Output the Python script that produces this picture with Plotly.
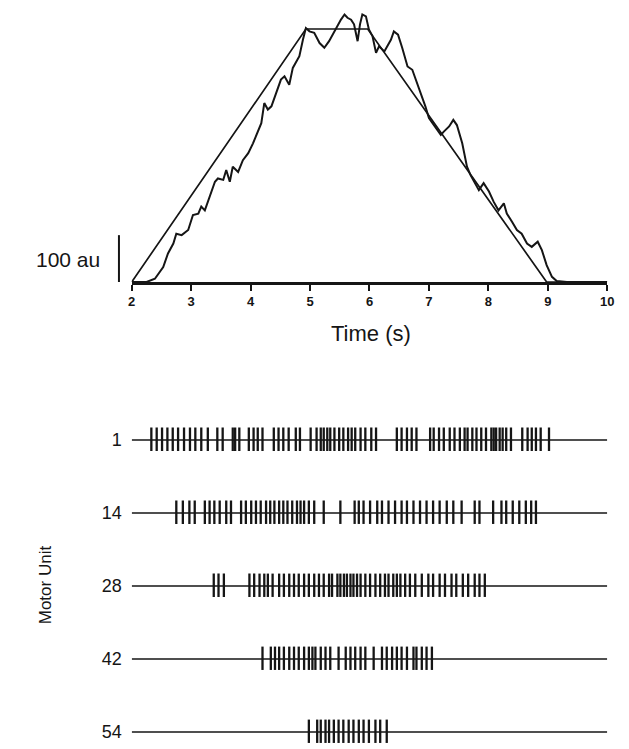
import plotly.graph_objects as go

# ---------------- data ----------------
# target force trajectory (trapezoid)
target_t = [2.0, 4.93, 5.97, 8.98, 10.0]
target_v = [0, 540, 540, 0, 0]

force_t = [2.0, 2.25, 2.39, 2.53, 2.61, 2.70, 2.75, 2.84, 2.95, 3.03, 3.12, 3.17, 3.23, 3.31, 3.40,
           3.45, 3.54, 3.59, 3.65, 3.70, 3.79, 3.87, 3.96, 4.04, 4.12, 4.18, 4.23, 4.29, 4.35,
           4.43, 4.51, 4.57, 4.65, 4.71, 4.77, 4.82, 4.88, 4.93, 4.99, 5.07, 5.16, 5.24, 5.32,
           5.41, 5.47, 5.52, 5.58, 5.63, 5.69, 5.74, 5.80, 5.84, 5.88, 5.94, 5.99, 6.05, 6.11,
           6.16, 6.25, 6.36, 6.41, 6.48, 6.55, 6.64, 6.72, 6.78, 6.86, 6.94, 7.00, 7.06, 7.14,
           7.20, 7.25, 7.34, 7.41, 7.47, 7.56, 7.64, 7.70, 7.78, 7.84, 7.92, 8.01, 8.09, 8.17,
           8.26, 8.31, 8.40, 8.48, 8.56, 8.65, 8.73, 8.83, 8.90, 8.98, 9.07, 9.15, 9.32, 10.0]
force_v = [0, 0, 7, 32, 61, 82, 103, 100, 111, 143, 146, 161, 153, 181, 214,
           221, 218, 239, 214, 246, 235, 260, 275, 296, 321, 339, 382, 368, 375,
           403, 432, 439, 421, 457, 471, 482, 517, 542, 535, 532, 510, 500, 514,
           535, 546, 560, 571, 564, 560, 550, 514, 550, 571, 567, 539, 525, 489,
           503, 492, 517, 535, 528, 500, 460, 453, 432, 403, 375, 350, 339, 325,
           314, 321, 332, 346, 335, 296, 246, 228, 211, 196, 211, 193, 171, 153,
           168, 146, 128, 111, 103, 82, 75, 86, 68, 36, 11, 2, 0, 0]

time_ticks = [2, 3, 4, 5, 6, 7, 8, 9, 10]

# motor unit discharge times (s)
unit_labels = ["1", "14", "28", "42", "54"]
mu1 = [2.33, 2.42, 2.51, 2.60, 2.69, 2.78, 2.88, 2.98, 3.07, 3.17, 3.28, 3.44, 3.53, 3.70, 3.74,
       3.81, 3.97, 4.05, 4.12, 4.20, 4.39, 4.47, 4.55, 4.64, 4.76, 4.83, 5.01, 5.11, 5.18, 5.23,
       5.29, 5.34, 5.41, 5.49, 5.56, 5.64, 5.70, 5.76, 5.85, 5.93, 6.03, 6.11, 6.46, 6.54, 6.63,
       6.71, 6.79, 7.02, 7.08, 7.17, 7.25, 7.35, 7.43, 7.52, 7.60, 7.65, 7.73, 7.80, 7.88, 7.96,
       8.05, 8.09, 8.13, 8.19, 8.24, 8.30, 8.38, 8.57, 8.66, 8.73, 8.80, 8.88, 9.02]
mu14 = [2.75, 2.86, 2.97, 3.06, 3.23, 3.31, 3.39, 3.48, 3.59, 3.67, 3.84, 3.92, 4.01, 4.09, 4.17,
        4.26, 4.33, 4.40, 4.48, 4.55, 4.62, 4.70, 4.78, 4.84, 4.90, 4.98, 5.07, 5.23, 5.51, 5.75,
        5.82, 5.90, 6.01, 6.13, 6.21, 6.32, 6.43, 6.54, 6.63, 6.74, 6.85, 6.96, 7.07, 7.18, 7.30,
        7.41, 7.55, 7.77, 7.85, 8.08, 8.22, 8.30, 8.41, 8.52, 8.63, 8.72, 8.80]
mu28 = [3.38, 3.46, 3.55, 3.98, 4.06, 4.15, 4.23, 4.29, 4.37, 4.48, 4.56, 4.65, 4.73, 4.81, 4.90,
        4.98, 5.07, 5.15, 5.23, 5.32, 5.37, 5.46, 5.51, 5.57, 5.62, 5.68, 5.73, 5.79, 5.85, 5.93,
        6.01, 6.10, 6.18, 6.26, 6.32, 6.40, 6.46, 6.52, 6.60, 6.68, 6.77, 6.88, 6.99, 7.07, 7.18,
        7.27, 7.38, 7.46, 7.57, 7.66, 7.77, 7.85, 7.94]
mu42 = [4.20, 4.34, 4.41, 4.48, 4.56, 4.65, 4.73, 4.81, 4.90, 4.98, 5.04, 5.09, 5.18, 5.26, 5.34,
        5.48, 5.60, 5.68, 5.76, 5.85, 5.93, 6.07, 6.21, 6.29, 6.38, 6.46, 6.54, 6.63, 6.74, 6.79,
        6.88, 6.96, 7.05]
mu54 = [4.98, 5.12, 5.18, 5.26, 5.32, 5.40, 5.48, 5.56, 5.65, 5.73, 5.82, 5.90, 5.99, 6.10,
        6.18, 6.29]
spike_trains = [mu1, mu14, mu28, mu42, mu54]

# ---------------- figure ----------------
W, H = 629, 749
INK = "#151515"
FONT = "Liberation Sans, Arial, sans-serif"

def px_x(p):
    return p / W

def px_y(p):
    return 1 - p / H

fig = go.Figure()

# top panel
fig.add_trace(go.Scatter(x=target_t, y=target_v, mode="lines",
                         line=dict(color=INK, width=1.7), xaxis="x", yaxis="y",
                         showlegend=False, hoverinfo="skip"))
fig.add_trace(go.Scatter(x=force_t, y=force_v, mode="lines",
                         line=dict(color=INK, width=2.0), xaxis="x", yaxis="y",
                         showlegend=False, hoverinfo="skip"))

# bottom panel: baselines and spikes
bx, by = [], []
sx, sy = [], []
for k, train in enumerate(spike_trains):
    bx += [2, 10, None]
    by += [k, k, None]
    for t in train:
        sx += [t, t, None]
        sy += [k - 0.17, k + 0.15, None]
fig.add_trace(go.Scatter(x=bx, y=by, mode="lines", line=dict(color=INK, width=1.7),
                         xaxis="x2", yaxis="y2", showlegend=False, hoverinfo="skip"))
fig.add_trace(go.Scatter(x=sx, y=sy, mode="lines", line=dict(color=INK, width=2.3),
                         xaxis="x2", yaxis="y2", showlegend=False, hoverinfo="skip"))

x_dom = [px_x(130), px_x(614)]
yr_top = [0, 585]
top_bottom_px, top_top_px = 282, 282 - 585 * 0.4685

fig.update_layout(
    width=W, height=H,
    margin=dict(l=0, r=0, t=0, b=0),
    paper_bgcolor="white", plot_bgcolor="rgba(0,0,0,0)",
    font=dict(family=FONT, color=INK),
    xaxis=dict(domain=x_dom, range=[2, 10], anchor="y",
               tickvals=time_ticks, ticks="outside", ticklen=6, tickwidth=2,
               tickcolor=INK, showline=True, linecolor=INK, linewidth=2.5,
               showgrid=False, zeroline=False,
               tickfont=dict(size=13, color=INK, family=FONT, weight="bold")),
    yaxis=dict(domain=[px_y(top_bottom_px), px_y(top_top_px)], range=yr_top,
               visible=False, anchor="x"),
    xaxis2=dict(domain=x_dom, range=[2, 10], anchor="y2", visible=False),
    yaxis2=dict(domain=[0, px_y(400)], range=[(749 - 440) / 73, (400 - 440) / 73],
                anchor="x2", tickvals=[0, 1, 2, 3, 4], ticktext=unit_labels,
                showline=False, showgrid=False, zeroline=False, ticks="",
                ticklabelstandoff=9,
                tickfont=dict(size=18, color=INK, family=FONT)),
    shapes=[dict(type="line", xref="paper", yref="y", x0=px_x(117), x1=px_x(117),
                 y0=0, y1=100, line=dict(color=INK, width=2))],
    annotations=[
        dict(text="100 au", xref="paper", yref="paper", x=px_x(100), y=px_y(260),
             xanchor="right", yanchor="middle", showarrow=False,
             font=dict(size=21, color=INK, family=FONT)),
        dict(text="Time (s)", xref="paper", yref="paper", x=px_x(374), y=px_y(333),
             xanchor="center", yanchor="middle", showarrow=False,
             font=dict(size=22, color=INK, family=FONT)),
        dict(text="Motor Unit", xref="paper", yref="paper", x=px_x(42), y=px_y(585),
             xanchor="center", yanchor="middle", showarrow=False, textangle=-90,
             font=dict(size=17, color=INK, family=FONT)),
    ],
)

fig.write_html("out.html", config={"displayModeBar": False},
               post_script="document.body.style.margin='0';document.body.style.overflow='hidden';")
